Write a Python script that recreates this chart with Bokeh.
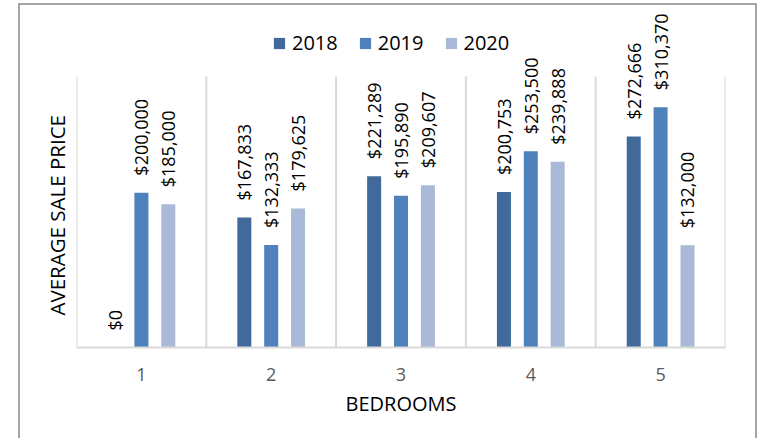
import math
from bokeh.plotting import figure
from bokeh.models import (FactorRange, Range1d, Legend, LegendItem, Title,
                          ColumnDataSource)
from bokeh.transform import dodge
from bokeh.core.properties import value
from bokeh.embed import file_html
from bokeh.resources import INLINE

bedrooms = ["1", "2", "3", "4", "5"]
years = ["2018", "2019", "2020"]
price_2018 = [0, 167833, 221289, 200753, 272666]
price_2019 = [200000, 132333, 195890, 253500, 310370]
price_2020 = [185000, 179625, 209607, 239888, 132000]
colors = ["#416a9b", "#4f81bd", "#aab9d8"]
offsets = [-0.207, 0.0, 0.207]

FONT = "Open Sans"
AXIS_MAX = 350000
# frame extends above the value axis so the rotated data labels are not clipped
FRAME_TOP, AXIS_TOP, AXIS_BOTTOM = 8, 76, 347
Y_END = AXIS_MAX * (AXIS_BOTTOM - FRAME_TOP) / (AXIS_BOTTOM - AXIS_TOP)

series = [price_2018, price_2019, price_2020]
data = {"bedrooms": bedrooms}
for y, vals in zip(years, series):
    data["v" + y] = vals
    data["l" + y] = ["${:,}".format(v) for v in vals]
src = ColumnDataSource(data)

W, H = 759, 438
p = figure(x_range=FactorRange(factors=bedrooms), y_range=Range1d(0, Y_END),
           width=W, height=H, output_backend="svg", toolbar_location=None,
           min_border_left=76, min_border_right=34, min_border_top=FRAME_TOP,
           min_border_bottom=H - AXIS_BOTTOM)
p.outline_line_color = None
p.background_fill_color = "white"
p.border_fill_color = None
g = "linear-gradient(#a5a5a5, #a5a5a5)"
p.styles = {"background": (f"{g} 18px 3px / 2px 440px no-repeat, "
                           f"{g} 755px 3px / 2px 440px no-repeat, "
                           f"{g} 18px 3px / 739px 2px no-repeat, #ffffff")}

# x axis
xa = p.xaxis[0]
xa.axis_line_color = "#d9d9d9"
xa.axis_line_width = 2
xa.major_tick_line_color = None
xa.minor_tick_line_color = None
xa.major_tick_out = 0
xa.major_tick_in = 0
xa.major_label_standoff = 20
xa.major_label_text_font = FONT
xa.major_label_text_font_size = "18px"
xa.major_label_text_color = "#595959"
xa.axis_label = "BEDROOMS"
xa.axis_label_text_font = FONT
xa.axis_label_text_font_size = "20px"
xa.axis_label_text_font_style = "normal"
xa.axis_label_text_color = "black"
xa.axis_label_standoff = 6

# value axis: only its title is shown, placed along the value extent
p.yaxis.visible = False
ytitle = Title(text="AVERAGE SALE PRICE", align="left", offset=32, standoff=11,
               text_font=FONT, text_font_size="20.5px", text_font_style="normal",
               text_color="black")
p.add_layout(ytitle, "left")

p.xgrid.grid_line_color = None
p.ygrid.grid_line_color = None

# category separators (synthetic coordinates of the factor range edges)
edges = list(range(len(bedrooms) + 1))
p.segment(x0=edges, y0=[0] * len(edges), x1=edges, y1=[AXIS_MAX] * len(edges),
          line_color="#d9d9d9", line_width=2)

items = []
for y, c, off in zip(years, colors, offsets):
    r = p.vbar(x=dodge("bedrooms", off, range=p.x_range), top="v" + y, width=0.108,
               source=src, fill_color=c, line_color=None)
    p.text(x=dodge("bedrooms", off, range=p.x_range), y="v" + y, text="l" + y,
           source=src, angle=math.pi / 2, text_align="left", text_baseline="middle",
           y_offset=-17, text_font=value(FONT), text_font_size="18px", text_color="black")
    items.append(LegendItem(label=y, renderers=[r]))

legend = Legend(items=items, orientation="horizontal", location=(196, 291),
                glyph_width=14, glyph_height=14, label_standoff=6, spacing=20,
                padding=0, margin=0, border_line_color=None, background_fill_alpha=0,
                label_text_font=FONT, label_text_font_size="20px", label_text_color="black")
p.add_layout(legend)

open("out.html", "w").write(file_html(p, INLINE))
